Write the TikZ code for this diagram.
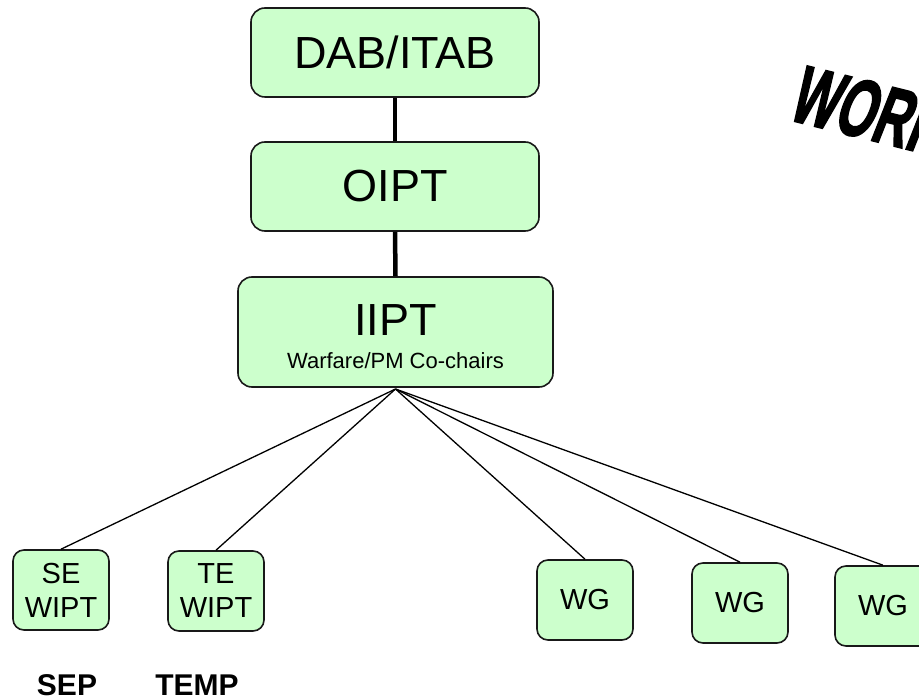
\documentclass[tikz,border=0pt]{standalone}
\usepackage{fontspec}
\setmainfont{Liberation Sans}
\newfontfamily\heavyfont[FakeBold=2.5]{Liberation Sans Bold}
\begin{document}
\begin{tikzpicture}[x=1pt,y=-1pt,
  ipt/.style={draw=black!90,line width=1.6pt,fill=boxgreen,rounded corners=14pt,
    inner sep=0pt,font=\fontsize{45}{50}\selectfont,align=center},
  wbox/.style={draw=black!90,line width=1.6pt,fill=boxgreen,rounded corners=11pt,
    inner sep=0pt,minimum width=96pt,minimum height=80pt,
    font=\fontsize{29}{31}\selectfont,align=center},
  trunk/.style={line width=4.5pt},
  branch/.style={line width=1.3pt},
  tag/.style={font=\bfseries\fontsize{30}{32}\selectfont,anchor=base}
]
\definecolor{boxgreen}{HTML}{CCFFCC}
\useasboundingbox (0,0) rectangle (919,700);

% upper chain
\node[ipt,minimum width=288pt,minimum height=89pt] (dab) at (395,52.5) {DAB/ITAB};
\node[ipt,minimum width=288pt,minimum height=89pt] (oipt) at (395,186.5) {OIPT};
\node[ipt,minimum width=315pt,minimum height=110pt] (iipt) at (395.5,332) {};
\node[font=\fontsize{45}{50}\selectfont,anchor=base] (iiptname) at (395.5,336) {IIPT};
\node[font=\fontsize{22}{24}\selectfont,anchor=base] (iiptsub) at (395.5,369) {Warfare/PM Co-chairs};

\draw[trunk] (dab.south) -- (oipt.north);
\draw[trunk] (oipt.south) -- (iipt.north);

% working-level boxes
\node[wbox] (se) at (61,590) {SE\\[3pt]WIPT};
\node[wbox] (te) at (216,591) {TE\\[3pt]WIPT};
\node[wbox] (wga) at (585,600) {WG};
\node[wbox] (wgb) at (740,603) {WG};
\node[wbox] (wgc) at (883,606) {WG};

\coordinate (hub) at (395.5,389);
\foreach \n in {se,te,wga,wgb,wgc}
  \draw[branch] (hub) -- (\n.north);

% plan labels
\node[tag] (sep) at (67,695) {SEP};
\node[tag] (temp) at (197,695) {TEMP};

% slanted heading
\node[anchor=base west,rotate=-14,inner sep=0pt,
  font=\heavyfont\fontsize{82}{84}\selectfont,xscale=0.6,xslant=0.22] (work) at (786,119) {WORK};
\end{tikzpicture}
\end{document}
